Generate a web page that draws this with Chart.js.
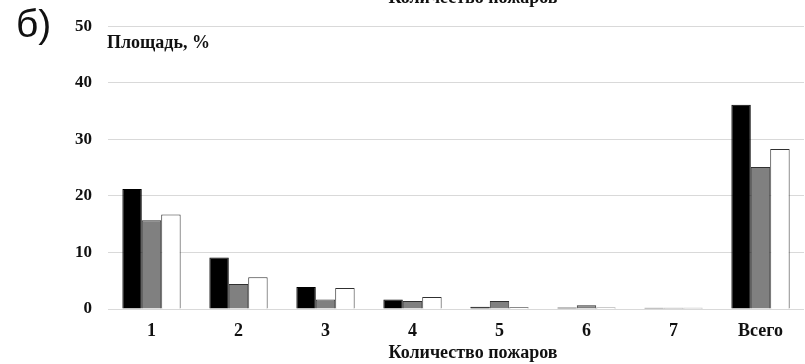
<!DOCTYPE html>
<html>
<head>
<meta charset="utf-8">
<script src="https://cdn.jsdelivr.net/npm/chart.js@4/dist/chart.umd.min.js"></script>
<style>
  html, body { margin: 0; padding: 0; background: #fff; overflow: hidden; }
  #wrap { position: relative; width: 805px; height: 364px; }
  canvas { position: absolute; left: 0; top: 0; }
  .lbl { position: absolute; white-space: nowrap; line-height: 1; color: #111; }
  .serif { font-family: "Liberation Serif", "Times New Roman", serif; font-weight: bold; font-size: 18px; }
</style>
</head>
<body>
<div id="wrap">
  <canvas id="c" width="805" height="364"></canvas>
  <div class="lbl" style="left:16px; top:4px; font-family:'Liberation Sans', Arial, sans-serif; font-size:39px;">б)</div>
  <div class="lbl serif" style="left:107px; top:33px;">Площадь, %</div>
  <div class="lbl serif" style="left:0; width:946px; text-align:center; top:343px;">Количество пожаров</div>
  <div class="lbl serif" style="left:0; width:946px; text-align:center; top:-12px;">Количество пожаров</div>
</div>
<script>
const categories = ["1", "2", "3", "4", "5", "6", "7", "Всего"];
const seriesBlack = [21.2, 9.1, 3.9, 1.7, 0.4, 0.25, 0.2, 36.1];
const seriesGray  = [15.7, 4.4, 1.7, 1.4, 1.4, 0.65, 0.2, 25.1];
const seriesWhite = [16.7, 5.6, 3.7, 2.1, 0.3, 0.25, 0.2, 28.3];
const yTicks = [0, 10, 20, 30, 40, 50];

const serifFamily = "'Liberation Serif', 'Times New Roman', serif";

new Chart(document.getElementById('c'), {
  type: 'bar',
  data: {
    labels: categories,
    datasets: [
      { data: seriesBlack, backgroundColor: '#000000', borderColor: '#000000', borderWidth: 1 },
      { data: seriesGray, backgroundColor: '#808080', borderColor: '#303030', borderWidth: 1 },
      { data: seriesWhite, backgroundColor: '#ffffff', borderColor: '#303030', borderWidth: 1 }
    ]
  },
  options: {
    responsive: false,
    animation: false,
    devicePixelRatio: 1,
    layout: { padding: { top: 22, right: 1, left: 0, bottom: 0 } },
    plugins: { legend: { display: false }, tooltip: { enabled: false }, title: { display: false } },
    datasets: { bar: { categoryPercentage: 0.67, barPercentage: 1.0 } },
    scales: {
      x: {
        grid: { display: false, drawTicks: false },
        border: { display: false },
        ticks: { color: '#111', font: { family: serifFamily, weight: 'bold', size: 18 }, padding: 12, maxRotation: 0 },
        afterFit: (s) => { s.height = 55; }
      },
      y: {
        min: 0, max: 50,
        grid: { color: '#d9d9d9', lineWidth: 1, drawTicks: false },
        border: { display: false },
        afterBuildTicks: (s) => { s.ticks = yTicks.map(v => ({ value: v })); },
        ticks: { color: '#111', font: { family: serifFamily, weight: 'bold', size: 17 }, padding: 16 },
        afterFit: (s) => { s.width = 108; }
      }
    }
  }
});
</script>
</body>
</html>
